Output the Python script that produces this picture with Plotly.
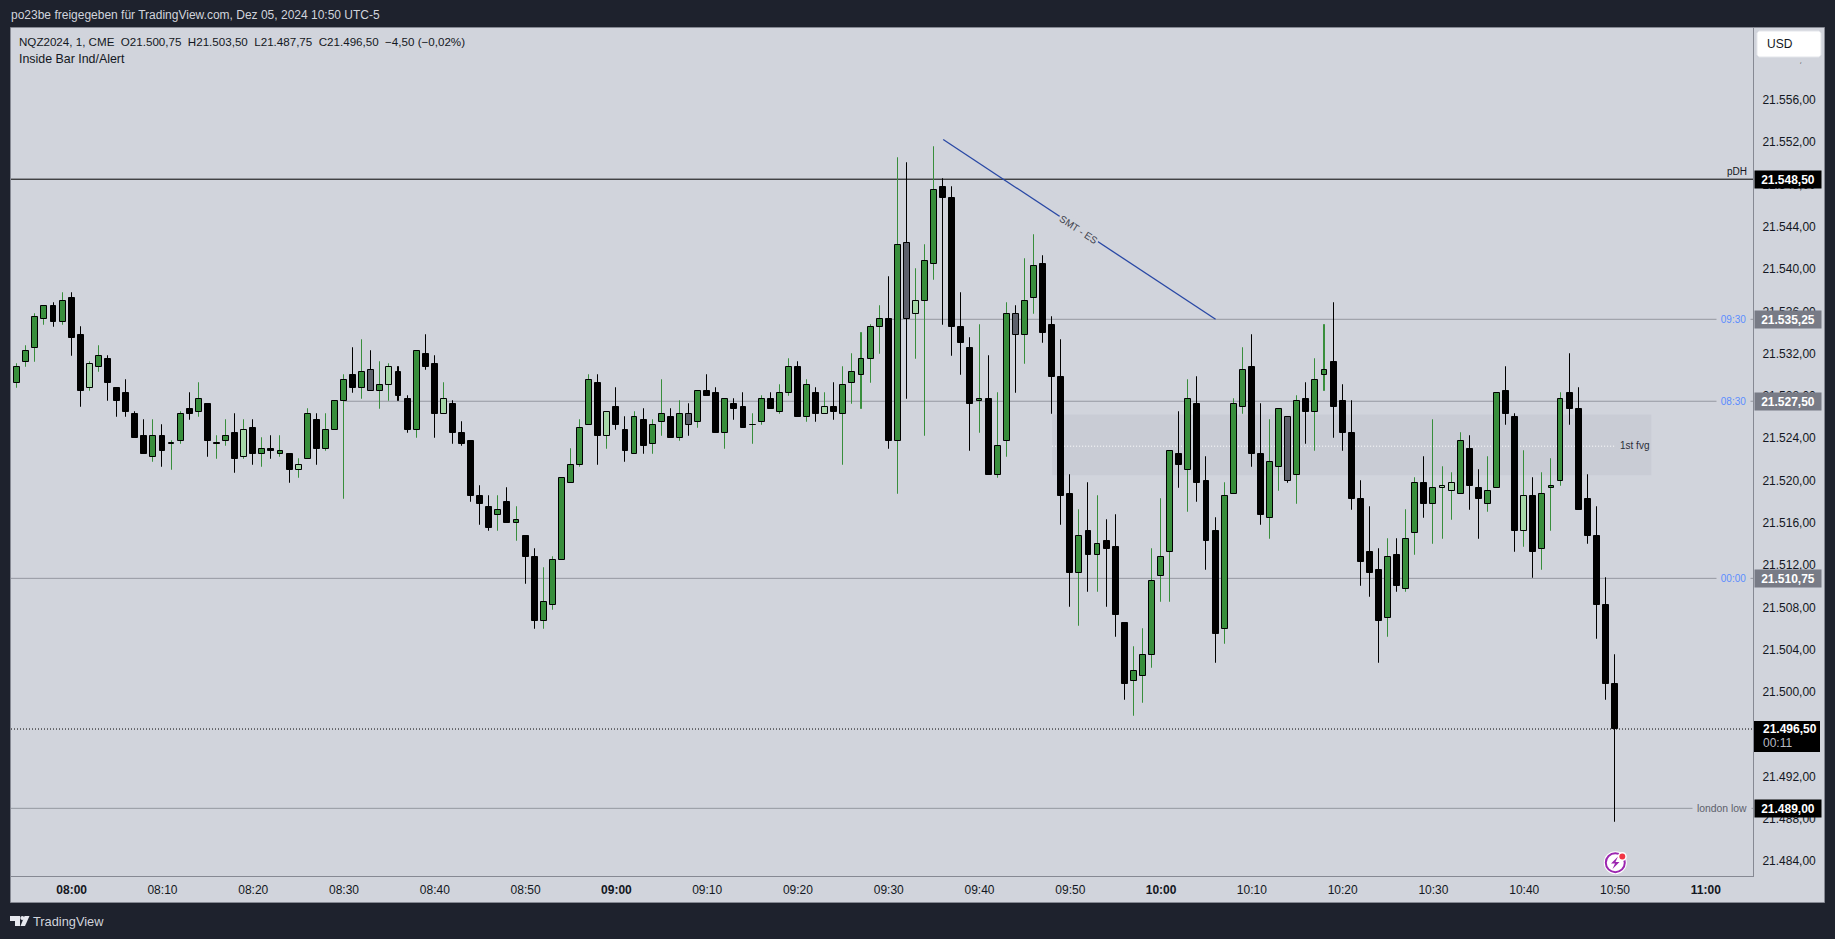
import pandas as pd
import plotly.graph_objects as go

# ---------------- data ----------------
FIRST_BAR = "2024-12-05 07:53"
OPEN = [
 21530.25,21529.25,21531.25,21532.50,21535.25,21536.50,21535.00,21537.25,21533.75,21528.75,
 21530.75,21531.50,21528.75,21528.25,21526.25,21524.25,21522.25,21524.25,21523.50,21523.75,
 21526.75,21526.50,21527.25,21523.50,21523.75,21524.50,21522.25,21525.00,21522.50,21523.00,
 21522.50,21522.50,21521.00,21522.00,21525.75,21523.00,21524.75,21527.50,21530.00,21528.75,
 21530.50,21528.50,21529.00,21530.25,21527.75,21524.75,21532.00,21531.00,21526.25,21527.25,
 21524.50,21523.75,21518.50,21517.50,21516.75,21518.00,21516.00,21514.75,21512.75,21506.75,
 21508.25,21512.50,21519.75,21521.50,21525.25,21529.25,21524.25,21527.00,21524.75,21522.50,
 21525.75,21523.50,21525.50,21526.00,21524.00,21526.25,21525.50,21528.50,21528.25,21524.50,
 21527.25,21527.00,21525.25,21525.50,21527.75,21526.50,21528.25,21530.75,21526.00,21528.25,
 21526.25,21527.00,21526.25,21529.25,21530.00,21531.50,21534.50,21535.25,21523.75,21542.50,
 21535.75,21537.00,21540.50,21547.75,21546.75,21534.50,21532.50,21527.50,21527.75,21520.50,
 21523.75,21535.75,21533.75,21537.25,21540.50,21534.75,21529.75,21518.75,21511.25,21515.25,
 21513.00,21514.25,21513.75,21506.50,21501.00,21501.50,21503.50,21511.00,21513.25,21522.50,
 21521.00,21527.25,21520.00,21515.25,21506.00,21518.75,21527.00,21530.75,21522.50,21516.50,
 21521.25,21526.00,21520.50,21527.75,21526.50,21530.00,21531.25,21527.50,21524.50,21518.25,
 21513.25,21511.50,21507.00,21513.00,21509.75,21515.00,21519.75,21517.75,21519.25,21519.00,
 21518.75,21523.00,21519.25,21517.75,21519.25,21528.50,21526.00,21515.25,21518.50,21513.50,
 21519.25,21520.00,21528.25,21526.75,21518.25,21514.75,21508.25,21500.75]
HIGH = [
 21530.25,21531.00,21532.75,21535.75,21536.50,21536.75,21537.75,21537.75,21534.50,21531.25,
 21532.75,21531.75,21528.75,21529.50,21526.50,21525.75,21525.75,21525.25,21523.75,21526.50,
 21528.25,21529.25,21527.25,21524.25,21525.75,21526.25,21525.75,21525.75,21524.00,21524.25,
 21524.25,21522.50,21522.00,21526.75,21526.25,21526.25,21527.50,21530.00,21532.50,21533.25,
 21532.25,21531.25,21531.00,21530.75,21528.00,21532.25,21533.75,21531.75,21529.25,21527.50,
 21525.50,21523.75,21519.50,21518.50,21518.50,21519.25,21517.50,21514.75,21513.50,21511.75,
 21512.75,21520.25,21523.00,21525.75,21530.00,21530.00,21526.50,21528.75,21526.00,21526.50,
 21526.75,21525.75,21529.50,21526.75,21527.50,21527.25,21528.50,21530.00,21528.75,21527.75,
 21527.75,21528.25,21526.25,21528.00,21528.25,21529.00,21531.50,21531.25,21529.50,21528.75,
 21528.25,21529.25,21530.75,21532.00,21534.00,21534.75,21536.50,21539.25,21550.50,21550.00,
 21540.00,21542.25,21551.50,21548.50,21547.75,21537.75,21533.50,21534.75,21531.75,21528.25,
 21536.75,21536.50,21541.00,21543.25,21541.25,21535.50,21533.25,21520.50,21517.25,21519.75,
 21518.50,21516.25,21516.75,21506.50,21504.25,21506.00,21513.50,21518.25,21522.75,21526.50,
 21529.50,21529.75,21522.25,21516.50,21519.75,21527.75,21532.50,21533.75,21527.25,21525.75,
 21526.75,21526.00,21528.00,21529.25,21531.50,21534.75,21536.75,21529.00,21527.50,21520.00,
 21517.50,21513.50,21514.50,21514.50,21517.25,21520.25,21522.25,21525.75,21521.25,21520.75,
 21524.50,21524.25,21521.00,21522.25,21528.25,21530.75,21526.25,21522.75,21520.25,21520.75,
 21522.00,21528.25,21532.00,21528.75,21520.50,21517.50,21510.75,21503.50]
LOW = [
 21529.25,21528.75,21530.75,21531.25,21534.75,21534.50,21534.75,21531.75,21527.00,21528.50,
 21530.25,21527.50,21526.00,21526.00,21524.00,21522.50,21521.75,21521.25,21521.00,21523.50,
 21525.75,21526.00,21522.25,21522.00,21523.25,21520.75,21522.00,21521.50,21521.25,21522.00,
 21522.25,21519.75,21520.25,21522.00,21521.50,21522.75,21524.75,21518.25,21528.25,21527.75,
 21528.50,21526.75,21527.50,21527.50,21524.50,21524.00,21530.50,21524.00,21526.25,21523.50,
 21523.25,21518.00,21515.75,21515.25,21515.25,21516.00,21514.25,21510.25,21506.00,21506.00,
 21507.75,21512.50,21519.75,21521.25,21525.25,21521.50,21523.00,21524.75,21521.75,21522.50,
 21522.50,21522.50,21524.25,21524.00,21523.75,21524.25,21525.00,21528.00,21524.50,21523.00,
 21525.75,21525.00,21523.50,21525.25,21526.75,21526.25,21528.00,21526.00,21525.50,21525.50,
 21526.25,21525.75,21521.50,21527.25,21526.75,21529.25,21532.00,21523.00,21518.75,21527.75,
 21531.50,21524.25,21539.00,21534.75,21531.75,21530.00,21522.75,21524.50,21520.50,21520.25,
 21522.25,21528.25,21531.00,21535.75,21533.00,21526.25,21515.75,21508.00,21506.25,21509.50,
 21509.50,21508.00,21505.25,21499.25,21497.75,21499.00,21502.25,21508.50,21508.50,21519.25,
 21517.00,21518.00,21511.50,21502.75,21504.50,21518.75,21526.25,21521.25,21515.75,21514.50,
 21519.00,21519.75,21517.75,21523.50,21522.75,21528.50,21524.00,21522.75,21517.25,21510.00,
 21509.00,21502.75,21505.25,21509.50,21509.50,21513.00,21516.50,21514.00,21514.50,21516.25,
 21518.75,21517.25,21514.50,21517.00,21519.25,21525.25,21513.25,21513.75,21510.75,21511.50,
 21515.25,21519.50,21525.25,21517.25,21514.00,21505.00,21499.25,21487.75]
CLOSE = [
 21529.25,21530.75,21532.25,21535.50,21536.50,21535.00,21537.00,21533.50,21528.50,21531.00,
 21531.75,21529.25,21527.50,21526.50,21524.00,21522.50,21524.25,21522.75,21523.50,21526.25,
 21526.25,21527.75,21523.75,21523.50,21524.25,21522.00,21524.75,21522.50,21523.00,21522.75,
 21522.75,21521.00,21521.50,21526.25,21523.00,21524.75,21527.50,21529.50,21528.75,21530.25,
 21528.50,21529.00,21530.75,21528.00,21524.75,21532.25,21530.75,21526.25,21527.75,21524.50,
 21523.50,21518.50,21517.75,21515.50,21517.25,21516.00,21516.25,21512.75,21506.75,21508.50,
 21512.50,21520.25,21521.50,21525.00,21529.50,21524.25,21526.50,21525.25,21522.75,21526.00,
 21523.25,21525.25,21526.25,21524.00,21526.25,21525.25,21528.50,21528.00,21524.50,21527.75,
 21526.75,21525.00,21525.25,21527.75,21526.75,21528.25,21530.75,21526.00,21529.00,21526.25,
 21527.00,21526.50,21529.00,21530.25,21531.50,21534.50,21535.25,21523.75,21542.25,21535.25,
 21537.00,21540.75,21547.50,21546.75,21534.50,21533.00,21527.25,21527.75,21520.50,21523.25,
 21535.75,21533.75,21537.00,21540.25,21534.00,21529.75,21518.50,21511.25,21514.75,21513.00,
 21514.00,21513.50,21507.25,21500.75,21502.00,21503.50,21510.50,21512.75,21522.75,21521.50,
 21527.75,21519.75,21514.25,21505.50,21518.50,21527.25,21530.50,21522.50,21516.75,21521.75,
 21526.75,21520.00,21527.50,21526.50,21529.50,21530.50,21527.00,21524.50,21518.25,21512.25,
 21511.25,21506.75,21512.75,21510.00,21514.50,21519.75,21517.75,21519.25,21519.50,21519.75,
 21523.75,21519.50,21518.25,21519.00,21528.25,21526.25,21515.25,21518.50,21513.25,21518.75,
 21519.50,21527.75,21526.75,21517.25,21514.75,21508.25,21500.75,21496.50]
# k = down, g = up, l = inside up bar, s = inside down bar
KIND = ("kggggkgkkl" "gkkkkkgkgg" "kgkggklkgk" "gklgkgggkg" "sglkkgkklk"
        "kkkkgkgkkg" "gggggklkkg" "kggkgsgkkg" "kkggkggkgk" "lkgggggkgs"
        "lggkkkkgkg" "gsggkkkkgk" "gkkkgggggk" "gkkkgggkkg" "gsgkggkkkk"
        "kkgkggkgll" "gkkggkklkg" "ggkkkkkk")

Y_TICKS = [21484, 21488, 21492, 21496, 21500, 21504, 21508, 21512, 21516, 21520,
           21524, 21528, 21532, 21536, 21540, 21544, 21548, 21552, 21556, 21560]
Y_TICK_TEXT = ["21.484,00", "21.488,00", "21.492,00", "21.496,00", "21.500,00", "21.504,00",
               "21.508,00", "21.512,00", "21.516,00", "21.520,00", "21.524,00", "21.528,00",
               "21.532,00", "21.536,00", "21.540,00", "21.544,00", "21.548,00", "21.552,00",
               "21.556,00", "21.560,00"]
X_TICK_TIMES = ["08:00", "08:10", "08:20", "08:30", "08:40", "08:50", "09:00", "09:10", "09:20",
                "09:30", "09:40", "09:50", "10:00", "10:10", "10:20", "10:30", "10:40", "10:50", "11:00"]
DAY = "2024-12-05 "

PDH = 21548.50
LVL_0930 = 21535.25
LVL_0830 = 21527.50
LVL_0000 = 21510.75
LONDON_LOW = 21489.00
LAST = 21496.50
FVG_TOP, FVG_BOTTOM, FVG_MID = 21526.25, 21520.50, 21523.25
SMT_START, SMT_END = 21552.25, 21535.25

# ---------------- style / layout constants ----------------
W, H = 1835, 939
PL, PR, PT, PB = 11, 1753, 28, 876
DARK = "#1e222d"
LIGHT = "#d1d4dc"
FRAME = "#868993"
LEVEL = "#9598a1"
GREEN = "#388e3c"
FONT = "Liberation Sans"
DOTS = "1px,2px"


def fx(p):
    return (p - PL) / (PR - PL)


def fy(p):
    return (PB - p) / (PB - PT)


def path(points):
    return "M " + " L ".join(f"{fx(a):.6f},{fy(b):.6f}" for a, b in points) + " Z"


def rect(x0, y0, x1, y1, fill, line=None, layer="below"):
    return dict(type="rect", xref="paper", yref="paper", x0=fx(x0), x1=fx(x1), y0=fy(y1), y1=fy(y0),
                fillcolor=fill, line=dict(color=line or fill, width=1 if line else 0), layer=layer)


def circle(cx, cy, r, fill, line=None, lw=0):
    return dict(type="circle", xref="paper", yref="paper", x0=fx(cx - r), x1=fx(cx + r),
                y0=fy(cy + r), y1=fy(cy - r), fillcolor=fill,
                line=dict(color=line or fill, width=lw), layer="above")


def hline(t0, t1, price, color, width=1, dash="solid", layer="below"):
    return dict(type="line", xref="x", yref="y", x0=t0, x1=t1, y0=price, y1=price,
                line=dict(color=color, width=width, dash=dash), layer=layer)


def note(px_, py_, text, size=12, color="#131722", anchor="left", bg=None, align=None, **kw):
    return dict(xref="paper", yref="paper", x=fx(px_), y=fy(py_), text=text, showarrow=False,
                xanchor=anchor, yanchor="middle", align=align or anchor,
                font=dict(family=FONT, size=size, color=color), bgcolor=bg, borderpad=0, **kw)


def axis_tag(price, text, bg):
    return dict(xref="paper", yref="y", x=fx(1754), y=price, text=f"<b>{text}</b>", showarrow=False,
                xanchor="left", yanchor="middle", width=66, height=17, align="center", valign="middle",
                bgcolor=bg, borderpad=0, font=dict(family=FONT, size=12, color="#ffffff"))


times = pd.date_range(FIRST_BAR, periods=len(OPEN), freq="min")
body_colors = {"k": "#000000", "g": GREEN, "l": "#a5d6a7", "s": "#5d606b"}
wick_colors = {"k": "#000000", "g": GREEN, "l": GREEN, "s": "#000000"}
wick_list = [wick_colors[k] for k in KIND]

fig = go.Figure()
fig.add_trace(go.Bar(
    x=times, base=LOW, y=[h - l for h, l in zip(HIGH, LOW)], width=100,
    marker=dict(color=wick_list, line=dict(color=wick_list, width=1)), hoverinfo="skip",
))
fig.add_trace(go.Bar(
    x=times, base=[min(o, c) for o, c in zip(OPEN, CLOSE)],
    y=[max(abs(c - o), 0.02) for o, c in zip(OPEN, CLOSE)], width=39000,
    marker=dict(color=[body_colors[k] for k in KIND], line=dict(color="#000000", width=1)), hoverinfo="skip",
))

T0 = DAY + "07:53:19"
T1 = DAY + "11:05:12"

shapes = [
    # axis panels and frame
    rect(10.5, 27.5, 1824.5, 902.5, LIGHT, FRAME),
    # fair value gap and levels
    dict(type="rect", xref="x", yref="y", x0=DAY + "09:48", x1=DAY + "10:54", y0=FVG_BOTTOM, y1=FVG_TOP,
         fillcolor="#c9ccd5", line=dict(width=0), layer="below"),
    hline(DAY + "09:48", DAY + "10:50", FVG_MID, "#ffffff", 1, DOTS),
    hline(T0, T1, PDH, "#000000", 1),
    hline(DAY + "09:30", T1, LVL_0930, LEVEL),
    hline(DAY + "08:30", T1, LVL_0830, LEVEL),
    hline(T0, T1, LVL_0000, LEVEL),
    hline(T0, T1, LONDON_LOW, LEVEL),
    hline(T0, T1, LAST, "#000000", 1, DOTS),
    # SMT trend line
    dict(type="line", xref="x", yref="y", x0=DAY + "09:36", x1=DAY + "10:06", y0=SMT_START, y1=SMT_END,
         line=dict(color="#2948a5", width=1.3), layer="below"),
    # mask behind the USD button and the button itself
    rect(1757, 31, 1821, 62.5, LIGHT, layer="above"),
    dict(type="path", xref="paper", yref="paper", fillcolor="#ffffff", line=dict(color="#e4e6eb", width=1),
         layer="above",
         path=path([(1759, 31), (1819, 31), (1821, 33), (1821, 55), (1819, 57), (1759, 57), (1757, 55), (1757, 33)])),
    # current price box
    rect(1754, 721, 1820, 752, "#000000", layer="above"),
    # TradingView logo
    dict(type="path", xref="paper", yref="paper", fillcolor="#e6e8ee", line=dict(width=0), layer="above",
         path=path([(10, 916), (20, 916), (20, 926), (15, 926), (15, 921), (10, 921)])),
    dict(type="path", xref="paper", yref="paper", fillcolor="#e6e8ee", line=dict(width=0), layer="above",
         path=path([(24.5, 916), (29.5, 916), (25, 926), (20.5, 926)])),
    circle(22.3, 918, 2, "#e6e8ee"),
    # lightning badge
    circle(1615.3, 862.7, 11.5, "#ffffff"),
    circle(1615.3, 862.7, 9.5, "#ffffff", "#9c27b0", 2),
    dict(type="path", xref="paper", yref="paper", fillcolor="#9c27b0", line=dict(width=0), layer="above",
         path=path([(1618, 856.5), (1611, 863.5), (1615, 863.5), (1612.5, 869), (1619.5, 862), (1615.5, 862)])),
    circle(1622.3, 856.5, 4.5, "#ffffff"),
    circle(1622.3, 856.5, 3, "#f23645"),
]

annotations = [
    note(9.5, 15, "po23be freigegeben für TradingView.com, Dez 05, 2024 10:50 UTC-5", 12, LIGHT),
    note(17.5, 42, "NQZ2024, 1, CME&nbsp;&nbsp;O21.500,75&nbsp;&nbsp;H21.503,50&nbsp;&nbsp;L21.487,75&nbsp;&nbsp;"
                   "C21.496,50&nbsp;&nbsp;−4,50 (−0,02%)", 11.6),
    note(17.5, 59, "Inside Bar Ind/Alert", 12.4),
    note(32, 921.5, "TradingView", 12.8, LIGHT),
    note(1766, 43.5, "USD", 12),
    note(1748, 172, "pDH", 10, anchor="right"),
    note(1751, 319.3, "09:30", 10, "#5b8dff", "right", LIGHT, "center", width=33),
    note(1751, 401.3, "08:30", 10, "#5b8dff", "right", LIGHT, "center", width=33),
    note(1751, 578.3, "00:00", 10, "#5b8dff", "right", LIGHT, "center", width=33),
    note(1752, 808.3, "london low", 10.4, "#5d606b", "right", LIGHT, "center", width=58),
    note(1619, 445.5, "1st fvg", 10, "#2a2e39"),
    dict(xref="x", yref="y", x=DAY + "09:50:54", y=21543.75, text="SMT - ES", showarrow=False, textangle=33.45,
         font=dict(family=FONT, size=10, color="#3f424d"), bgcolor=LIGHT, borderpad=1),
    axis_tag(PDH, "21.548,50", "#000000"),
    axis_tag(LVL_0930, "21.535,25", "#787b86"),
    axis_tag(LVL_0830, "21.527,50", "#787b86"),
    axis_tag(LVL_0000, "21.510,75", "#787b86"),
    axis_tag(LONDON_LOW, "21.489,00", "#000000"),
    note(1762, 729, "<b>21.496,50</b>", 12, "#ffffff"),
    note(1762, 743, "00:11", 12, "#b8bac2"),
]

fig.update_layout(
    width=W, height=H, autosize=False,
    margin=dict(l=PL, r=W - PR, t=PT, b=H - PB, pad=0),
    paper_bgcolor=DARK, plot_bgcolor=LIGHT, showlegend=False, barmode="overlay", bargap=0,
    shapes=shapes, annotations=annotations, hovermode=False,
    font=dict(family=FONT, size=12, color="#131722"),
    xaxis=dict(type="date", range=[T0, T1], showgrid=False, zeroline=False, showline=True, linecolor=FRAME,
               linewidth=1, ticks="outside", ticklen=3, tickcolor=LIGHT, tickwidth=1,
               tickvals=[DAY + t for t in X_TICK_TIMES],
               ticktext=[f"<b>{t}</b>" if t.endswith(":00") else t for t in X_TICK_TIMES],
               tickfont=dict(family=FONT, size=12, color="#131722"), fixedrange=True),
    yaxis=dict(side="right", range=[21482.6, 21562.8], showgrid=False, zeroline=False, showline=True,
               linecolor=FRAME, linewidth=1, ticks="outside", ticklen=6, tickcolor=LIGHT, tickwidth=1,
               tickvals=Y_TICKS, ticktext=Y_TICK_TEXT,
               tickfont=dict(family=FONT, size=12, color="#131722"), fixedrange=True),
)

fig.write_html("out.html", config=dict(displayModeBar=False),
               post_script="document.body.style.margin='0';document.body.style.overflow='hidden';")
